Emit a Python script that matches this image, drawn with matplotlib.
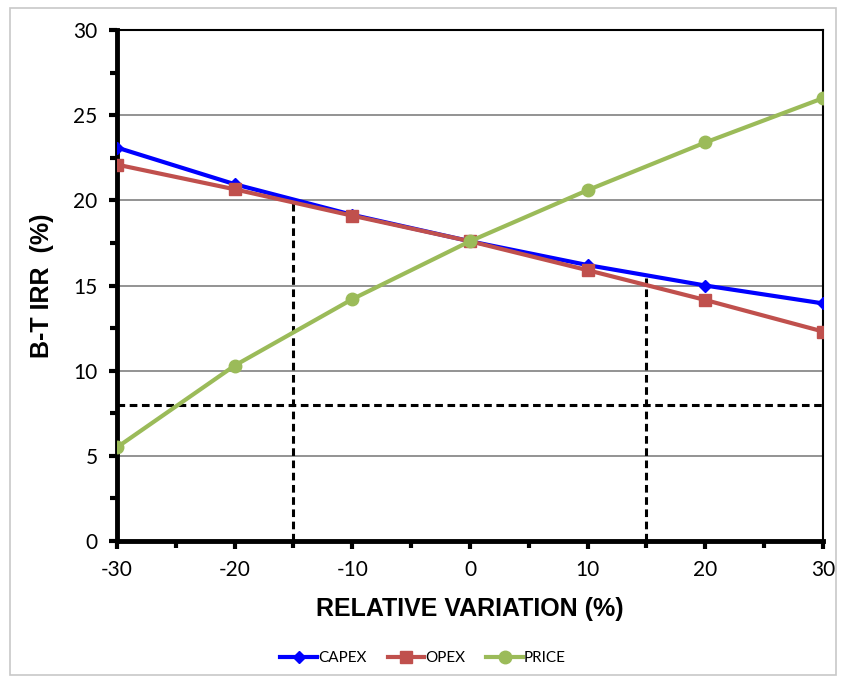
import matplotlib.pyplot as plt
from matplotlib.patches import Rectangle
from matplotlib.ticker import MultipleLocator

plt.rcParams['font.family'] = ['Lato', 'DejaVu Sans']
plt.rcParams['axes.unicode_minus'] = False

variation = [-30, -20, -10, 0, 10, 20, 30]
capex = [23.1, 20.95, 19.15, 17.6, 16.2, 15.0, 13.95]
opex = [22.1, 20.65, 19.1, 17.6, 15.9, 14.15, 12.3]
price = [5.5, 10.3, 14.2, 17.6, 20.6, 23.4, 26.0]

hurdle = 8
cross_lo = (-15, 20.0)
cross_hi = (15, 15.45)

fig = plt.figure(figsize=(8.46, 6.83), dpi=100)
ax = fig.add_axes([0.1383, 0.2079, 0.8345, 0.7481])

fig.patches.append(Rectangle((0.012, 0.012), 0.976, 0.977, transform=fig.transFigure,
                             fill=False, edgecolor='#c8c8c8', linewidth=1.2))

ax.plot(variation, capex, color='#0000ff', lw=3, marker='D', ms=6, label='CAPEX', zorder=3)
ax.plot(variation, opex, color='#c0504d', lw=3, marker='s', ms=8, label='OPEX', zorder=3)
ax.plot(variation, price, color='#9bbb59', lw=3, marker='o', ms=9, label='PRICE', zorder=3)

dash = (0, (2.5, 1.5))
ax.plot([-30, 30], [hurdle, hurdle], color='black', ls=dash, lw=2.2, zorder=2)
ax.plot([cross_lo[0]] * 2, [0, cross_lo[1]], color='black', ls=dash, lw=2.2, zorder=2)
ax.plot([cross_hi[0]] * 2, [0, cross_hi[1]], color='black', ls=dash, lw=2.2, zorder=2)

ax.set_xlim(-30, 30)
ax.set_ylim(0, 30)
ax.xaxis.set_major_locator(MultipleLocator(10))
ax.xaxis.set_minor_locator(MultipleLocator(5))
ax.yaxis.set_major_locator(MultipleLocator(5))
ax.yaxis.set_minor_locator(MultipleLocator(2.5))
ax.grid(axis='y', which='major', color='#808080', lw=1.2)
ax.set_axisbelow(True)

for s in ['left', 'bottom']:
    ax.spines[s].set_linewidth(3.5)
for s in ['top', 'right']:
    ax.spines[s].set_linewidth(1.5)
ax.tick_params(which='both', direction='out', width=3, labelsize=15)
ax.tick_params(which='major', length=6, pad=8)
ax.tick_params(which='minor', length=5)

ax.set_xlabel('RELATIVE VARIATION (%)', fontsize=18, fontweight='bold', labelpad=12,
              family=['Liberation Sans', 'DejaVu Sans'])
ax.set_ylabel('B-T IRR  (%)', fontsize=18, fontweight='bold', labelpad=14,
              family=['Liberation Sans', 'DejaVu Sans'])

fig.legend(loc='center', bbox_to_anchor=(0.5, 0.036), ncol=3, frameon=False,
           fontsize=11, handlelength=2.4, columnspacing=1.4, handletextpad=0.05)

fig.savefig('out.png', dpi=100)
